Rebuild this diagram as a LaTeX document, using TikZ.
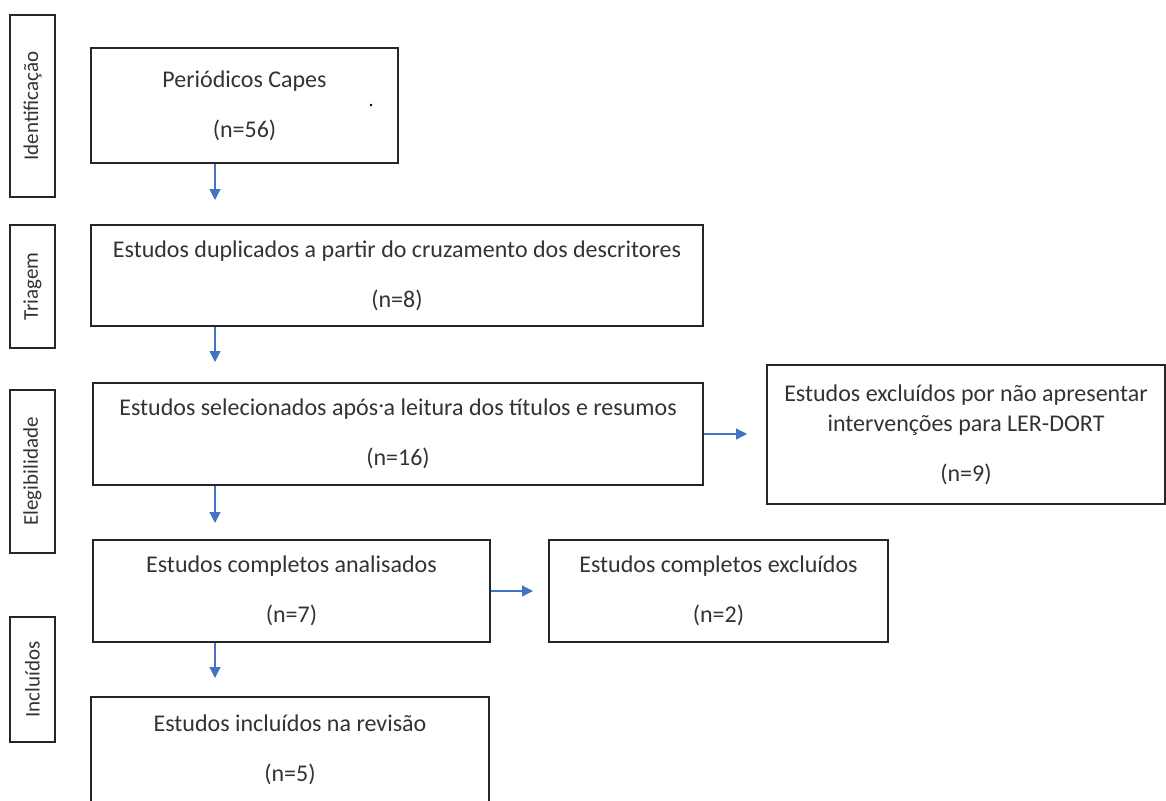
\documentclass[tikz,border=0pt]{standalone}
\usepackage{fontspec}
\setmainfont{Carlito}
\usetikzlibrary{arrows.meta}
\definecolor{flowblue}{HTML}{4472C4}
\definecolor{boxtext}{HTML}{333333}
\newcommand{\gap}{20pt}
\tikzset{
  stagebox/.style={
    draw=black!85, line width=1.1pt, rotate=90, inner sep=0pt,
    minimum height=45pt, font=\fontsize{21}{25}\selectfont, text=boxtext
  },
  flowbox/.style={
    draw=black!85, line width=1.1pt, align=center, inner sep=0pt,
    font=\fontsize{24}{30}\selectfont, text=boxtext
  },
  flowarrow/.style={
    draw=flowblue, line width=1.2pt,
    -{Triangle[length=11pt,width=11pt]}
  }
}

\begin{document}
\begin{tikzpicture}[x=1pt, y=-1pt]
  \useasboundingbox (0,0) rectangle (1166,800);
  % stage labels
  \node[stagebox, minimum width=182pt] (ident) at (32.5,106)   {Identificação};
  \node[stagebox, minimum width=123pt] (triag) at (32.5,286.5) {Triagem};
  \node[stagebox, minimum width=163pt] (elegi) at (32.5,471.5) {Elegibilidade};
  \node[stagebox, minimum width=125pt] (inclu) at (32.5,679.5) {Incluídos};
  % main column
  \node[flowbox, minimum width=307pt, minimum height=115pt] (capes) at (244.5,105.5)
    {Periódicos Capes\\[\gap](n=56)};
  \node[flowbox, minimum width=612pt, minimum height=101pt] (dupl) at (397,275.5)
    {Estudos duplicados a partir do cruzamento dos descritores\\[\gap](n=8)};
  \node[flowbox, minimum width=610pt, minimum height=102pt] (selec) at (398,434)
    {Estudos selecionados após\rlap{\raisebox{0.35em}{.}} a leitura dos títulos e resumos\\[\gap](n=16)};
  \node[flowbox, minimum width=397pt, minimum height=102pt] (compl) at (291.5,591)
    {Estudos completos analisados\\[\gap](n=7)};
  \node[flowbox, minimum width=398pt, minimum height=106pt] (incl) at (290,750)
    {Estudos incluídos na revisão\\[\gap](n=5)};
  % excluded
  \node[flowbox, minimum width=398pt, minimum height=139pt] (excl) at (966,434.5)
    {Estudos excluídos por não apresentar\\intervenções para LER-DORT\\[\gap](n=9)};
  \node[flowbox, minimum width=339pt, minimum height=102pt] (exclc) at (718.5,591)
    {Estudos completos excluídos\\[\gap](n=2)};
  % stray dot
  \fill[black] (371,105) circle (1.3pt);
  % arrows
  \coordinate (d1) at (215,200);
  \coordinate (d2) at (215,362);
  \coordinate (d3) at (215,523);
  \coordinate (d4) at (215,678);
  \coordinate (r1) at (747,434);
  \coordinate (r2) at (533,591);
  \draw[flowarrow] (capes.south -| d1) -- (d1);
  \draw[flowarrow] (dupl.south -| d2) -- (d2);
  \draw[flowarrow] (selec.south -| d3) -- (d3);
  \draw[flowarrow] (compl.south -| d4) -- (d4);
  \draw[flowarrow] (selec.east) -- (r1);
  \draw[flowarrow] (compl.east) -- (r2);
\end{tikzpicture}
\end{document}
